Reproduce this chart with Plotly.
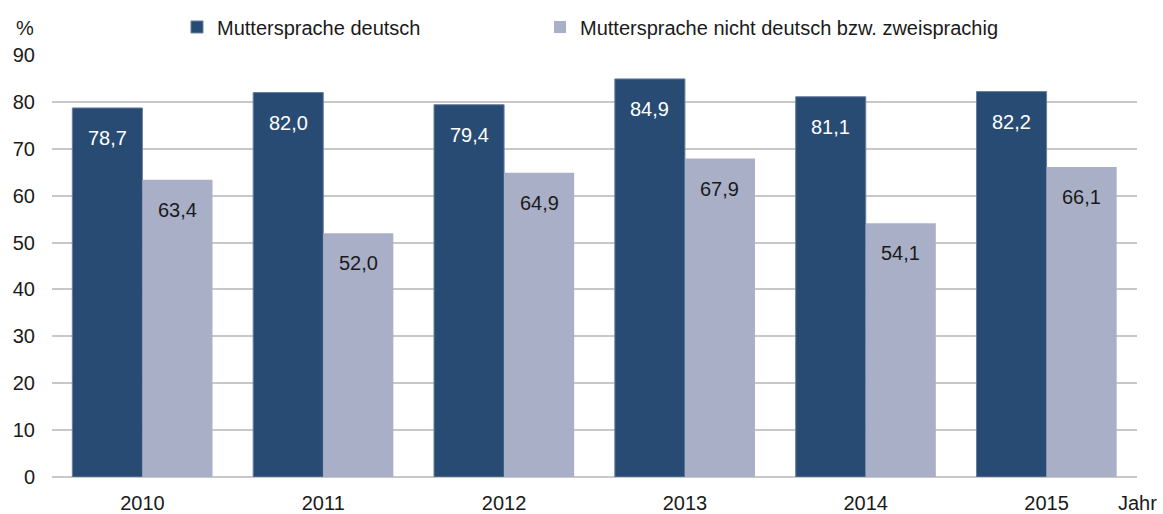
import plotly.graph_objects as go

jahre = ["2010", "2011", "2012", "2013", "2014", "2015"]
deutsch = [78.7, 82.0, 79.4, 84.9, 81.1, 82.2]
nicht_deutsch = [63.4, 52.0, 64.9, 67.9, 54.1, 66.1]
serien = ["Muttersprache deutsch", "Muttersprache nicht deutsch bzw. zweisprachig"]
y_ticks = list(range(0, 91, 10))

dunkel = "#284b73"
hell = "#aaafc8"
schrift = "Liberation Sans, Arial, sans-serif"
textfarbe = "#1a1a1a"
gr = 20

fig = go.Figure()
fig.add_trace(go.Bar(
    x=jahre, y=deutsch, name=serien[0], legend="legend",
    marker=dict(color=dunkel, line=dict(color="#6a7ea0", width=1)),
))
fig.add_trace(go.Bar(
    x=jahre, y=nicht_deutsch, name=serien[1], legend="legend2",
    marker=dict(color=hell, line=dict(color=hell, width=0)),
))

def fmt(v):
    return f"{v:.1f}".replace(".", ",")

# value labels just below each bar top (x given as category index)
for i, (a, b) in enumerate(zip(deutsch, nicht_deutsch)):
    fig.add_annotation(x=i, y=a, text=fmt(a), showarrow=False, xshift=-35, yshift=-30,
                       yanchor="middle", font=dict(color="white", size=gr, family=schrift))
    fig.add_annotation(x=i, y=b, text=fmt(b), showarrow=False, xshift=35, yshift=-30,
                       yanchor="middle", font=dict(color=textfarbe, size=gr, family=schrift))

fig.add_annotation(xref="paper", yref="paper", x=-0.025, y=1.0, yshift=27, text="%",
                   showarrow=False, xanchor="center", yanchor="middle",
                   font=dict(size=gr, color=textfarbe, family=schrift))
fig.add_annotation(xref="paper", yref="paper", x=1.0, y=0, yshift=-26, xshift=0, text="Jahr",
                   showarrow=False, xanchor="center", yanchor="middle", borderpad=0,
                   font=dict(size=gr, color=textfarbe, family=schrift))

leg_common = dict(orientation="h", yanchor="middle", y=1.0664, yref="paper",
                  xanchor="left", font=dict(size=gr, color=textfarbe, family=schrift),
                  itemwidth=30, bgcolor="rgba(0,0,0,0)")

fig.update_layout(
    width=1163, height=514,
    margin=dict(l=52, r=26, t=55, b=37, autoexpand=False),
    paper_bgcolor="white", plot_bgcolor="white",
    barmode="group", bargap=0.225, bargroupgap=0,
    font=dict(family=schrift, size=gr, color=textfarbe),
    showlegend=True,
    legend=dict(x=0.1152, **leg_common),
    legend2=dict(x=0.4498, **leg_common),
    xaxis=dict(type="category", range=[-0.5, len(jahre) - 0.5], showgrid=False,
               automargin=False, showline=False, ticks="", tickfont=dict(size=gr),
               ticklabelstandoff=12),
    yaxis=dict(range=[0, 90], tickvals=y_ticks, showgrid=True, gridcolor="#c8c8c8",
               gridwidth=1.5, zeroline=True, zerolinecolor="#c8c8c8", zerolinewidth=1.5,
               automargin=False, showline=False, ticks="", tickfont=dict(size=gr),
               ticklabelstandoff=16),
)

fig.write_html("out.html")
